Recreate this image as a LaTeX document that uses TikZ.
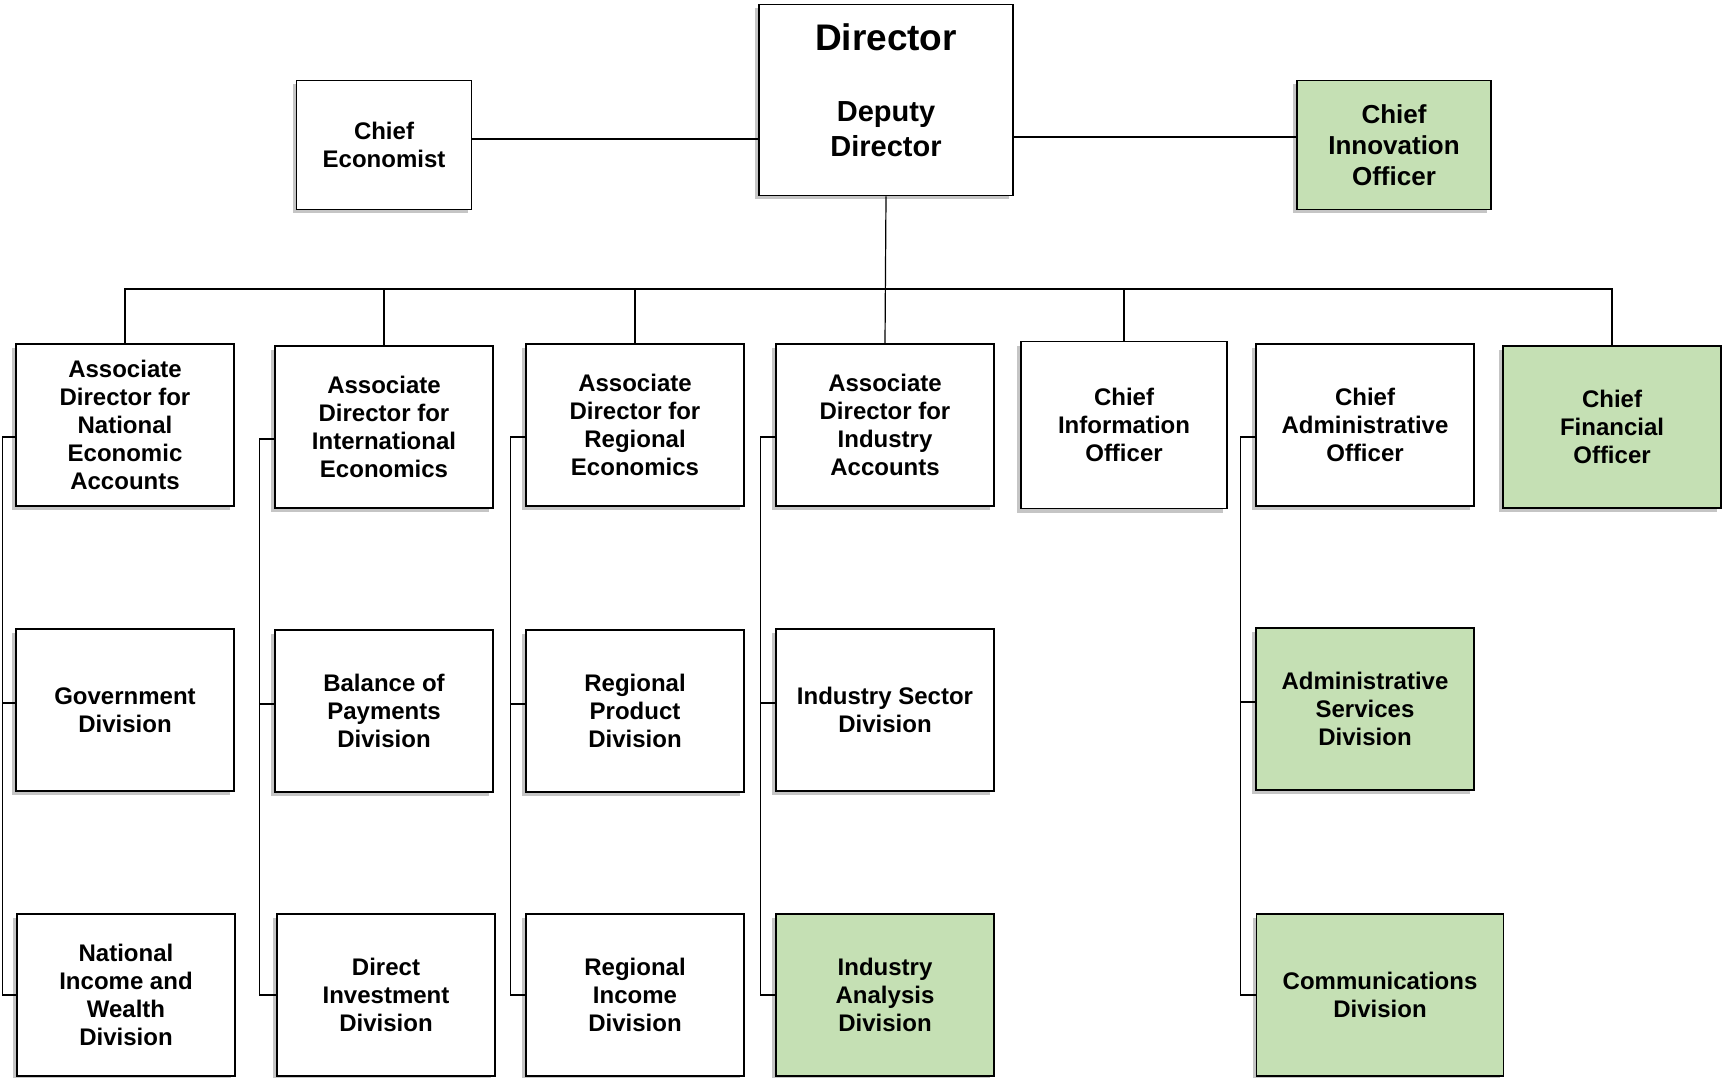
\documentclass[tikz,border=0pt]{standalone}
\usepackage{fontspec}
\setmainfont{Liberation Sans}
\usetikzlibrary{shadows}
\definecolor{boxgreen}{RGB}{197,224,180}

\begin{document}
\begin{tikzpicture}[x=1pt,y=-1pt,
  box/.style={draw,line width=1.6pt,fill=white,align=center,inner sep=0pt,
    minimum width=218pt,minimum height=162pt,
    font=\fontsize{24}{28}\selectfont\bfseries,
    drop shadow={shadow xshift=-4pt,shadow yshift=-4pt,fill=black!45}},
  greenbox/.style={box,fill=boxgreen},
  link/.style={line width=1.2pt}]
\path[use as bounding box,fill=white] (0,0) rectangle (1722,1078);

% top row
\node[box,minimum width=254pt,minimum height=191pt] (dir) at (886,100) {};
\node[font=\fontsize{37}{40}\selectfont\bfseries] (dirtitle) at (886,37) {Director};
\node[font=\fontsize{29}{35}\selectfont\bfseries,align=center] (deputy) at (886,129) {Deputy\\Director};
\node[box,minimum width=175pt,minimum height=129pt] (ce) at (384,145) {Chief\\Economist};
\node[greenbox,minimum width=194pt,minimum height=129pt,font=\fontsize{26}{31}\selectfont\bfseries] (cino) at (1394,145) {Chief\\Innovation\\Officer};

% associate directors and chiefs
\node[box] (adnea) at (125,425) {Associate\\Director for\\National\\Economic\\Accounts};
\node[box] (adie) at (384,427) {Associate\\Director for\\International\\Economics};
\node[box] (adre) at (635,425) {Associate\\Director for\\Regional\\Economics};
\node[box] (adia) at (885,425) {Associate\\Director for\\Industry\\Accounts};
\node[box,minimum width=206pt,minimum height=167pt] (cio) at (1124,425) {Chief\\Information\\Officer};
\node[box] (cao) at (1365,425) {Chief\\Administrative\\Officer};
\node[greenbox] (cfo) at (1612,427) {Chief\\Financial\\Officer};

% divisions
\node[box] (gov) at (125,710) {Government\\Division};
\node[box] (bop) at (384,711) {Balance of\\Payments\\Division};
\node[box] (rprod) at (635,711) {Regional\\Product\\Division};
\node[box] (isec) at (885,710) {Industry Sector\\Division};
\node[greenbox] (adsv) at (1365,709) {Administrative\\Services\\Division};

\node[box] (niw) at (126,995) {National\\Income and\\Wealth\\Division};
\node[box] (dinv) at (386,995) {Direct\\Investment\\Division};
\node[box] (rinc) at (635,995) {Regional\\Income\\Division};
\node[greenbox] (ian) at (885,995) {Industry\\Analysis\\Division};
\node[greenbox,minimum width=247pt] (comm) at (1380,995) {Communications\\Division};

% connectors
\draw[link] ([yshift=6pt]ce.east) -- ([yshift=6pt]ce.east -| dir.west);
\draw[link] ([yshift=8pt]cino.west -| dir.east) -- ([yshift=8pt]cino.west);
\draw[link] (dir.south) -- (adia.north);
\coordinate (bus) at (0,289);
\draw[link] (adnea.north) |- (bus -| cfo.north) -- (cfo.north);
\foreach \n in {adie,adre,cio}
  \draw[link] (\n.north) -- (\n.north |- bus);

\foreach \a/\b/\c/\d in {adnea/gov/niw/13,adie/bop/dinv/15,adre/rprod/rinc/15,adia/isec/ian/15,cao/adsv/comm/15} {
  \draw[link] ([yshift=-12pt]\a.west) -- ++(-\d,0) |- (\c.west);
  \draw[link] ([yshift=7pt]\b.west) -- ++(-\d,0);
}
\end{tikzpicture}
\end{document}
